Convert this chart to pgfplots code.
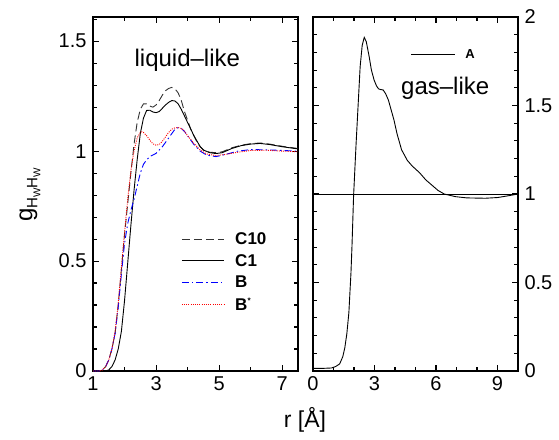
\documentclass[border=0pt]{standalone}
\usepackage{fontspec}
\setmainfont{Liberation Sans}
\usepackage{pgfplots}
\pgfplotsset{compat=1.18}
\newcommand{\tfont}{\fontsize{20}{22}\selectfont}
\pgfplotsset{
  myaxis/.style={
    scale only axis, width=205pt, height=354pt,
    axis line style={line width=1.3pt},
    major tick length=0pt, minor tick length=0pt,
    /pgf/number format/assume math mode=true,
    ticklabel style={font=\tfont},
    unbounded coords=jump,
  },
  tk/.style={black, line width=1.1pt, forget plot},
}
\begin{document}
\begin{tikzpicture}
\path (-93pt,-68pt) rectangle (466pt,371pt);
\begin{axis}[myaxis, at={(0pt,0pt)}, anchor=south west,
  xmin=1, xmax=7.5, ymin=0, ymax=1.61,
  xtick={1,3,5,7},
  ytick={0,0.5,1,1.5},
  yticklabels={0,0.5,1,1.5},
  xticklabel style={yshift=-2pt},
  yticklabel style={xshift=-3pt},
  legend cell align=left,
  legend style={draw=none, fill=none, at={(rel axis cs:0.43,0.398)}, anchor=north west,
    font=\fontsize{17}{17}\selectfont\bfseries, row sep=4.5pt, inner sep=0pt,
    /tikz/every odd column/.append style={column sep=9pt}},
  legend image code/.code={\draw[#1] (0pt,0pt) -- (42pt,0pt);},
]
% tick marks (inside)
\addplot[tk] coordinates {
(3,0)(3,0.0273)(3,nan)(5,0)(5,0.0273)(5,nan)(7,0)(7,0.0273)(7,nan)
(3,1.61)(3,1.5827)(3,nan)(5,1.61)(5,1.5827)(5,nan)(7,1.61)(7,1.5827)(7,nan)
(2,0)(2,0.0182)(2,nan)(4,0)(4,0.0182)(4,nan)(6,0)(6,0.0182)(6,nan)
(2,1.61)(2,1.5918)(2,nan)(4,1.61)(4,1.5918)(4,nan)(6,1.61)(6,1.5918)(6,nan)
(1,0.5)(1.19,0.5)(nan,0.5)(1,1)(1.19,1)(nan,1)(1,1.5)(1.19,1.5)(nan,1.5)
(7.5,0.5)(7.31,0.5)(nan,0.5)(7.5,1)(7.31,1)(nan,1)(7.5,1.5)(7.31,1.5)(nan,1.5)
(1,0.1)(1.127,0.1)(nan,0.1)(7.5,0.1)(7.373,0.1)(nan,0.1)
(1,0.2)(1.127,0.2)(nan,0.2)(7.5,0.2)(7.373,0.2)(nan,0.2)
(1,0.3)(1.127,0.3)(nan,0.3)(7.5,0.3)(7.373,0.3)(nan,0.3)
(1,0.4)(1.127,0.4)(nan,0.4)(7.5,0.4)(7.373,0.4)(nan,0.4)
(1,0.6)(1.127,0.6)(nan,0.6)(7.5,0.6)(7.373,0.6)(nan,0.6)
(1,0.7)(1.127,0.7)(nan,0.7)(7.5,0.7)(7.373,0.7)(nan,0.7)
(1,0.8)(1.127,0.8)(nan,0.8)(7.5,0.8)(7.373,0.8)(nan,0.8)
(1,0.9)(1.127,0.9)(nan,0.9)(7.5,0.9)(7.373,0.9)(nan,0.9)
(1,1.1)(1.127,1.1)(nan,1.1)(7.5,1.1)(7.373,1.1)(nan,1.1)
(1,1.2)(1.127,1.2)(nan,1.2)(7.5,1.2)(7.373,1.2)(nan,1.2)
(1,1.3)(1.127,1.3)(nan,1.3)(7.5,1.3)(7.373,1.3)(nan,1.3)
(1,1.4)(1.127,1.4)(nan,1.4)(7.5,1.4)(7.373,1.4)(nan,1.4)
(1,1.6)(1.127,1.6)(nan,1.6)(7.5,1.6)(7.373,1.6)};
\addplot[black!80, line width=0.9pt, dash pattern=on 8pt off 4pt] coordinates {
(1.0,0)(1.2,0)(1.3,0.005)(1.4,0.02)(1.5,0.05)(1.6,0.1)(1.7,0.17)(1.8,0.3)(1.9,0.46)(2.0,0.62)(2.1,0.76)(2.2,0.9)(2.3,1.03)(2.4,1.13)(2.5,1.19)(2.6,1.215)(2.7,1.215)(2.8,1.205)(2.9,1.2)(3.0,1.21)(3.1,1.23)(3.2,1.255)(3.3,1.275)(3.4,1.285)(3.5,1.29)(3.6,1.283)(3.7,1.265)(3.8,1.23)(3.9,1.18)(4.0,1.14)(4.1,1.1)(4.2,1.07)(4.3,1.04)(4.4,1.02)(4.5,1.005)(4.7,0.995)(4.9,0.993)(5.1,0.997)(5.4,1.015)(5.7,1.027)(6.0,1.034)(6.3,1.037)(6.6,1.032)(7.0,1.022)(7.5,1.012)};
\addlegendentry{C10}
\addplot[black, line width=0.9pt] coordinates {
(1.0,0)(1.4,0)(1.5,0.005)(1.6,0.02)(1.7,0.05)(1.8,0.1)(1.9,0.18)(2.0,0.32)(2.1,0.49)(2.2,0.66)(2.3,0.82)(2.4,0.96)(2.5,1.08)(2.6,1.15)(2.7,1.185)(2.8,1.186)(2.9,1.178)(3.0,1.175)(3.1,1.18)(3.2,1.195)(3.3,1.21)(3.4,1.222)(3.5,1.23)(3.6,1.228)(3.7,1.215)(3.8,1.19)(3.9,1.16)(4.0,1.13)(4.1,1.1)(4.2,1.07)(4.3,1.045)(4.4,1.02)(4.5,1.005)(4.7,0.993)(4.9,0.989)(5.1,0.993)(5.4,1.012)(5.7,1.025)(6.0,1.032)(6.3,1.035)(6.6,1.03)(7.0,1.02)(7.5,1.01)};
\addlegendentry{C1}
\addplot[blue, line width=0.9pt, dash pattern=on 7pt off 3pt on 1.5pt off 3pt] coordinates {
(1.0,0)(1.2,0)(1.3,0.005)(1.4,0.02)(1.5,0.05)(1.6,0.1)(1.7,0.17)(1.8,0.29)(1.9,0.44)(2.0,0.58)(2.1,0.67)(2.2,0.73)(2.3,0.78)(2.4,0.84)(2.5,0.9)(2.6,0.94)(2.7,0.96)(2.8,0.975)(3.0,0.99)(3.2,1.02)(3.4,1.06)(3.6,1.1)(3.7,1.107)(3.8,1.103)(3.9,1.09)(4.0,1.07)(4.2,1.03)(4.4,1.0)(4.6,0.982)(4.9,0.975)(5.2,0.985)(5.6,1.0)(6.0,1.007)(6.5,1.006)(7.0,1.003)(7.5,1.0)};
\addlegendentry{B}
\addplot[red, line width=0.9pt, dash pattern=on 1pt off 1.2pt] coordinates {
(1.0,0)(1.2,0)(1.3,0.005)(1.4,0.02)(1.5,0.05)(1.6,0.1)(1.7,0.18)(1.8,0.31)(1.9,0.47)(2.0,0.63)(2.1,0.78)(2.2,0.91)(2.3,1.0)(2.4,1.06)(2.5,1.085)(2.55,1.088)(2.6,1.085)(2.7,1.07)(2.8,1.05)(2.9,1.033)(3.0,1.027)(3.1,1.03)(3.2,1.045)(3.3,1.065)(3.4,1.085)(3.5,1.1)(3.6,1.106)(3.7,1.107)(3.8,1.103)(3.9,1.09)(4.0,1.07)(4.2,1.035)(4.4,1.005)(4.6,0.987)(4.9,0.98)(5.2,0.985)(5.6,0.995)(6.0,1.003)(6.5,1.004)(7.0,1.0)(7.5,0.997)};
\addlegendentry{B\raisebox{7pt}{\fontsize{8}{8}\selectfont *}}
\node[font=\fontsize{24}{24}\selectfont] at (rel axis cs:0.46,0.879) {liquid–like};
\end{axis}
\begin{axis}[myaxis, at={(220pt,0pt)}, anchor=south west,
  xmin=0, xmax=10, ymin=0, ymax=2,
  xtick={0,3,6,9},
  ytick={0,0.5,1,1.5,2},
  yticklabels={0,0.5,1,1.5,2},
  yticklabel pos=right,
  xticklabel style={yshift=-2pt},
  yticklabel style={xshift=3pt},
  legend style={draw=none, fill=none, at={(rel axis cs:0.475,0.915)}, anchor=north west,
    font=\fontsize{13}{13}\selectfont\bfseries, inner sep=0pt,
    /tikz/every odd column/.append style={column sep=8pt}},
  legend image code/.code={\draw[#1] (0pt,0pt) -- (44pt,0pt);},
]
\addplot[tk] coordinates {
(3,0)(3,0.0339)(3,nan)(6,0)(6,0.0339)(6,nan)(9,0)(9,0.0339)(9,nan)
(3,2)(3,1.9661)(3,nan)(6,2)(6,1.9661)(6,nan)(9,2)(9,1.9661)(9,nan)
(1,0)(1,0.0226)(1,nan)(2,0)(2,0.0226)(2,nan)(4,0)(4,0.0226)(4,nan)(5,0)(5,0.0226)(5,nan)(7,0)(7,0.0226)(7,nan)(8,0)(8,0.0226)(8,nan)
(1,2)(1,1.9774)(1,nan)(2,2)(2,1.9774)(2,nan)(4,2)(4,1.9774)(4,nan)(5,2)(5,1.9774)(5,nan)(7,2)(7,1.9774)(7,nan)(8,2)(8,1.9774)(8,nan)
(0,0.5)(0.293,0.5)(nan,0.5)(0,1)(0.293,1)(nan,1)(0,1.5)(0.293,1.5)(nan,1.5)
(10,0.5)(9.707,0.5)(nan,0.5)(10,1)(9.707,1)(nan,1)(10,1.5)(9.707,1.5)(nan,1.5)
(0,0.1)(0.195,0.1)(nan,0.1)(10,0.1)(9.805,0.1)(nan,0.1)
(0,0.2)(0.195,0.2)(nan,0.2)(10,0.2)(9.805,0.2)(nan,0.2)
(0,0.3)(0.195,0.3)(nan,0.3)(10,0.3)(9.805,0.3)(nan,0.3)
(0,0.4)(0.195,0.4)(nan,0.4)(10,0.4)(9.805,0.4)(nan,0.4)
(0,0.6)(0.195,0.6)(nan,0.6)(10,0.6)(9.805,0.6)(nan,0.6)
(0,0.7)(0.195,0.7)(nan,0.7)(10,0.7)(9.805,0.7)(nan,0.7)
(0,0.8)(0.195,0.8)(nan,0.8)(10,0.8)(9.805,0.8)(nan,0.8)
(0,0.9)(0.195,0.9)(nan,0.9)(10,0.9)(9.805,0.9)(nan,0.9)
(0,1.1)(0.195,1.1)(nan,1.1)(10,1.1)(9.805,1.1)(nan,1.1)
(0,1.2)(0.195,1.2)(nan,1.2)(10,1.2)(9.805,1.2)(nan,1.2)
(0,1.3)(0.195,1.3)(nan,1.3)(10,1.3)(9.805,1.3)(nan,1.3)
(0,1.4)(0.195,1.4)(nan,1.4)(10,1.4)(9.805,1.4)(nan,1.4)
(0,1.6)(0.195,1.6)(nan,1.6)(10,1.6)(9.805,1.6)(nan,1.6)
(0,1.7)(0.195,1.7)(nan,1.7)(10,1.7)(9.805,1.7)(nan,1.7)
(0,1.8)(0.195,1.8)(nan,1.8)(10,1.8)(9.805,1.8)(nan,1.8)
(0,1.9)(0.195,1.9)(nan,1.9)(10,1.9)(9.805,1.9)};
\addplot[black, line width=0.9pt] coordinates {
(0,0.015)(0.5,0.015)(0.9,0.017)(1.1,0.025)(1.3,0.04)(1.45,0.08)(1.55,0.13)(1.65,0.21)(1.75,0.33)(1.85,0.55)(1.9,0.7)(1.98,0.99)(2.1,1.28)(2.2,1.5)(2.3,1.72)(2.4,1.84)(2.5,1.885)(2.6,1.86)(2.74,1.776)(2.85,1.70)(2.98,1.644)(3.1,1.61)(3.2,1.594)(3.3,1.59)(3.42,1.588)(3.55,1.565)(3.68,1.53)(3.8,1.48)(3.95,1.418)(4.1,1.34)(4.32,1.25)(4.6,1.19)(4.84,1.158)(5.2,1.12)(5.5,1.08)(5.8,1.05)(6.1,1.02)(6.4,1.0)(6.95,0.985)(7.5,0.978)(8.4,0.976)(9.0,0.98)(9.53,0.99)(10,1.0)};
\addlegendentry{A}
\addplot[black, line width=0.6pt, forget plot] coordinates {(0,1)(10,1)};
\node[font=\fontsize{24}{24}\selectfont] at (rel axis cs:0.645,0.80) {gas–like};
\end{axis}
\node[font=\fontsize{23}{23}\selectfont] at (212pt,-49pt) {r [Å]};
\node[rotate=90] at (-63pt,176pt) {{\fontsize{24}{24}\selectfont g}\raisebox{-5pt}{\fontsize{15}{15}\selectfont H\raisebox{-3pt}{\fontsize{10}{10}\selectfont W}H\raisebox{-3pt}{\fontsize{10}{10}\selectfont W}}};
\end{tikzpicture}
\end{document}
